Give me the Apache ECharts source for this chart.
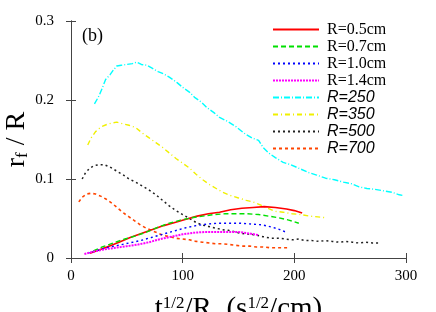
<!DOCTYPE html>
<html><head><meta charset="utf-8">
<script src="https://cdn.jsdelivr.net/npm/echarts@6/dist/echarts.min.js"></script>
<style>html,body{margin:0;padding:0;background:#fff}#c{width:436px;height:312px}</style>
</head><body><div id="c"></div>
<script>
const seriesNames = ['R=0.5cm','R=0.7cm','R=1.0cm','R=1.4cm','R=250','R=350','R=500','R=700'];
const xTicks = [0,100,200,300];
const yTicks = [0,0.1,0.2,0.3];
const dR05 = [[17,0.006],[25,0.010],[34,0.015],[43,0.020],[53,0.026],[63,0.031],[73,0.036],[83,0.041],[93,0.045],[103,0.049],[113,0.053],[123,0.056],[133,0.058],[143,0.061],[153,0.063],[163,0.064],[173,0.065],[183,0.064],[193,0.062],[200,0.060],[207,0.057]];
const dR07 = [[20,0.009],[28,0.014],[38,0.019],[48,0.024],[58,0.028],[68,0.033],[78,0.039],[88,0.044],[98,0.048],[108,0.051],[118,0.053],[128,0.055],[138,0.056],[148,0.056],[158,0.056],[168,0.055],[177,0.053],[186,0.051],[195,0.048],[204,0.044]];
const dR10 = [[15,0.006],[22,0.009],[32,0.013],[42,0.016],[52,0.019],[62,0.022],[72,0.026],[82,0.030],[92,0.034],[102,0.038],[112,0.041],[122,0.043],[132,0.044],[142,0.044],[152,0.044],[162,0.043],[171,0.042],[180,0.039],[187,0.036],[192,0.033]];
const dR14 = [[12,0.005],[20,0.008],[30,0.011],[40,0.013],[50,0.015],[60,0.017],[70,0.020],[80,0.024],[90,0.027],[100,0.030],[110,0.032],[120,0.033],[130,0.033],[140,0.033],[150,0.033],[160,0.031],[168,0.029]];
const d250 = [[21,0.195],[25,0.205],[28,0.215],[31,0.226],[35,0.232],[38,0.238],[41,0.243],[45,0.244],[50,0.245],[55,0.246],[59,0.248],[63,0.245],[68,0.244],[73,0.240],[78,0.236],[83,0.233],[88,0.229],[95,0.222],[100,0.216],[106,0.210],[111,0.203],[117,0.197],[122,0.190],[128,0.184],[133,0.178],[140,0.173],[148,0.166],[155,0.158],[162,0.152],[168,0.149],[172,0.140],[177,0.133],[183,0.127],[190,0.121],[197,0.118],[205,0.113],[213,0.108],[220,0.105],[228,0.101],[236,0.099],[244,0.096],[251,0.094],[258,0.090],[265,0.088],[272,0.087],[280,0.085],[288,0.083],[294,0.080],[298,0.079]];
const d350 = [[15,0.143],[18,0.152],[22,0.160],[27,0.166],[32,0.169],[37,0.171],[41,0.172],[46,0.170],[52,0.168],[58,0.165],[64,0.158],[70,0.152],[76,0.146],[82,0.140],[88,0.133],[94,0.126],[100,0.120],[106,0.114],[112,0.106],[118,0.099],[124,0.093],[130,0.088],[136,0.083],[143,0.079],[150,0.076],[157,0.073],[163,0.071],[170,0.067],[176,0.063],[183,0.059],[190,0.058],[198,0.056],[206,0.055],[214,0.053],[221,0.052],[228,0.051]];
const d500 = [[10,0.100],[13,0.108],[17,0.114],[21,0.117],[25,0.118],[30,0.118],[35,0.115],[41,0.110],[47,0.105],[52,0.100],[58,0.096],[64,0.091],[70,0.086],[76,0.080],[82,0.073],[88,0.066],[94,0.060],[100,0.055],[106,0.050],[112,0.045],[117,0.042],[123,0.040],[129,0.038],[135,0.036],[141,0.035],[147,0.033],[153,0.031],[160,0.030],[166,0.029],[172,0.027],[179,0.025],[186,0.025],[192,0.024],[198,0.023],[204,0.024],[210,0.022],[216,0.022],[222,0.021],[228,0.022],[234,0.021],[240,0.020],[246,0.021],[252,0.020],[258,0.019],[264,0.020],[270,0.019],[276,0.019]];
const d700 = [[7,0.071],[10,0.077],[14,0.081],[18,0.082],[22,0.081],[27,0.078],[32,0.074],[37,0.069],[42,0.063],[47,0.057],[52,0.052],[57,0.047],[62,0.042],[67,0.038],[72,0.035],[77,0.032],[82,0.029],[88,0.027],[94,0.025],[100,0.024],[106,0.023],[112,0.021],[118,0.020],[124,0.019],[130,0.018],[136,0.018],[142,0.017],[148,0.016],[154,0.015],[160,0.015],[166,0.014],[172,0.014],[178,0.013],[184,0.013],[190,0.013],[195,0.013]];
const allData = [dR05,dR07,dR10,dR14,d250,d350,d500,d700];
const colors = ['#ff0000','#00e000','#0000ff','#ff00ff','#00ffff','#f0f000','#202020','#ff4500'];
const dashes = ['solid',[5,3],[2,3],[2,1],[6,2,1,2],[5,3,1,3],[2,3],[3,3]];
const widths = [1.6,1.4,1.4,2,1.4,1.4,1.5,1.6];

const serif = 'Liberation Serif';
const chart = echarts.init(document.getElementById('c'));
const axisCol = '#444';
chart.setOption({
  animation:false,
  backgroundColor:'#fff',
  grid:{left:71,right:30,top:21,bottom:54,containLabel:false,outerBoundsMode:'none'},
  legend:{
    orient:'vertical', left:272, top:21, padding:0, itemWidth:46, itemHeight:17, itemGap:0,
    data: seriesNames,
    itemStyle:{opacity:0},
    formatter: n => n.indexOf('cm')>=0 ? '{s|'+n+'}' : '{i|'+n+'}',
    textStyle:{padding:[0,0,0,3], lineHeight:17, rich:{
      s:{fontFamily:serif,fontSize:16,lineHeight:17,color:'#000'},
      i:{fontFamily:'Liberation Sans',fontStyle:'italic',fontSize:16,lineHeight:17,color:'#000'}
    }}
  },
  xAxis:[{
    type:'value',min:0,max:300,interval:100,
    axisLine:{onZero:false,lineStyle:{color:axisCol,width:1}},
    axisTick:{inside:true,length:5,lineStyle:{color:axisCol}},
    splitLine:{show:false},
    axisLabel:{margin:11,fontFamily:serif,fontSize:15,color:'#000'},
    name:'{n|t}{p|1/2}{n|/R  (s}{p|1/2}{n|/cm)}', nameLocation:'middle', nameGap:37,
    nameTextStyle:{rich:{n:{fontFamily:serif,fontSize:29,color:'#000'},p:{fontFamily:serif,fontSize:17,color:'#000',verticalAlign:'top'}}}
  },{
    type:'value',min:0,max:300,interval:100,position:'top',
    axisLine:{lineStyle:{color:axisCol}},axisTick:{inside:true,length:5,lineStyle:{color:axisCol}},
    axisLabel:{show:false},splitLine:{show:false}
  }],
  yAxis:[{
    type:'value',min:0,max:0.3,interval:0.1,
    axisLine:{show:true,onZero:false,lineStyle:{color:axisCol}},
    axisTick:{show:true,inside:true,length:5,lineStyle:{color:axisCol}},
    splitLine:{show:false},
    axisLabel:{margin:17,fontFamily:serif,fontSize:15,color:'#000',formatter:v=>String(+v.toFixed(1))},
    name:'{n|r}{b|f}{n| / R}', nameLocation:'middle', nameGap:40, nameMoveOverlap:false,
    nameTextStyle:{rich:{n:{fontFamily:serif,fontSize:28,color:'#000'},b:{fontFamily:serif,fontSize:17,color:'#000',verticalAlign:'bottom'}}}
  },{
    type:'value',min:0,max:0.3,interval:0.1,position:'right',
    axisLine:{show:true,lineStyle:{color:axisCol}},axisTick:{show:true,inside:true,length:5,lineStyle:{color:axisCol}},
    axisLabel:{show:false},splitLine:{show:false}
  }],
  graphic:[{type:'text',left:82,top:27,style:{text:'(b)',font:'18px "Liberation Serif"',fill:'#000'}}],
  series: seriesNames.map((n,i)=>({
    name:n,type:'line',data:allData[i],showSymbol:false,symbol:'none',smooth:false,
    lineStyle:{color:colors[i],type:dashes[i],width:widths[i]},itemStyle:{color:colors[i]},
    z: i<4 ? 3 : 2
  }))
});
</script></body></html>
